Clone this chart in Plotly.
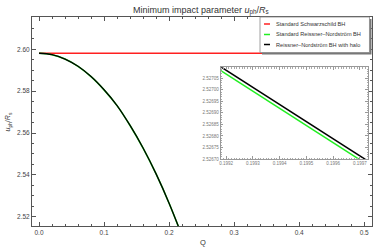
import plotly.graph_objects as go

# ---- data ----
q_main = [0.00, 0.02, 0.04, 0.06, 0.08, 0.10, 0.12, 0.14, 0.16, 0.18, 0.20, 0.22]
b_rn = [2.59808, 2.59741, 2.59530, 2.59183, 2.58693, 2.58062, 2.57309, 2.56359,
        2.55281, 2.54046, 2.52649, 2.51082]
b_halo = [2.59810, 2.59743, 2.59532, 2.59185, 2.58695, 2.58064, 2.57311, 2.56361,
          2.55283, 2.54048, 2.52651, 2.51084]
q_sch = [0.0, 0.5]
b_sch = [2.59808, 2.59808]

q_inset = [0.1991, 0.1992, 0.1993, 0.1994, 0.1995, 0.1996, 0.1997, 0.1998]
b_inset_halo = [2.527160, 2.527086, 2.527012, 2.526937, 2.526863, 2.526788, 2.526714, 2.526639]
b_inset_rn = [2.527143, 2.527069, 2.526995, 2.526920, 2.526846, 2.526771, 2.526697, 2.526622]

legend_names = ["Standard Schwarzschild BH", "Standard Reissner\u2013Nordstr\u00f6m BH",
                "Reissner\u2013Nordstr\u00f6m BH with halo"]
colors = ["#ff2020", "#22ee22", "#000000"]

FONT = "Liberation Sans, Arial, sans-serif"
AX = "#555555"

fig = go.Figure()
fig.add_trace(go.Scatter(x=q_sch, y=b_sch, mode="lines", line=dict(color=colors[0], width=1.5),
                         showlegend=False))
fig.add_trace(go.Scatter(x=q_main, y=b_rn, mode="lines", line=dict(color=colors[1], width=1.6, shape="spline"),
                         showlegend=False))
fig.add_trace(go.Scatter(x=q_main, y=b_halo, mode="lines", line=dict(color=colors[2], width=1.3, shape="spline"),
                         showlegend=False))
# inset
fig.add_trace(go.Scatter(x=q_inset, y=b_inset_rn, mode="lines", line=dict(color=colors[1], width=1.5),
                         xaxis="x2", yaxis="y2", showlegend=False))
fig.add_trace(go.Scatter(x=q_inset, y=b_inset_halo, mode="lines", line=dict(color=colors[2], width=1.5),
                         xaxis="x2", yaxis="y2", showlegend=False))

axis_common = dict(showline=True, linecolor=AX, linewidth=1, mirror="allticks", ticks="inside",
                   tickcolor=AX, showgrid=False, zeroline=False,
                   tickfont=dict(family=FONT, size=6.5, color="#444"))

fig.update_layout(
    width=374, height=251,
    margin=dict(l=32, r=2, t=17, b=25),
    paper_bgcolor="white", plot_bgcolor="white",
    showlegend=False,
    title=dict(text="Minimum impact parameter <i>u</i><sub>ph</sub>/<i>R</i><sub>s</sub>",
               x=0.537, xanchor="center", y=0.975, yanchor="top",
               font=dict(family=FONT, size=9, color="#333")),
    xaxis=dict(range=[-0.0108, 0.512], tickmode="linear", tick0=0, dtick=0.1, tickformat=".1f",
               ticklen=4, minor=dict(ticks="inside", ticklen=2, dtick=0.02, tickcolor=AX),
               **axis_common),
    yaxis=dict(range=[2.5156, 2.6154], tickmode="linear", tick0=2.52, dtick=0.02, tickformat=".2f",
               ticklen=4, minor=dict(ticks="inside", ticklen=2, dtick=0.005, tickcolor=AX),
               **axis_common),
    xaxis2=dict(domain=[0.555, 0.988], anchor="y2", range=[0.19918, 0.19973],
                tickmode="linear", tick0=0.1992, dtick=0.0001, tickformat=".4f",
                showline=True, linecolor="#999", mirror="allticks", ticks="inside", ticklen=2.5,
                tickcolor="#999", showgrid=False, zeroline=False,
                minor=dict(ticks="inside", ticklen=1.2, dtick=0.00001, tickcolor="#aaa"),
                tickfont=dict(family=FONT, size=4.5, color="#777")),
    yaxis2=dict(domain=[0.3206, 0.7593], anchor="x2", range=[2.52670, 2.527098],
                tickmode="linear", tick0=2.5267, dtick=0.00005, tickformat=".5f",
                showline=True, linecolor="#999", mirror="allticks", ticks="inside", ticklen=2.5,
                tickcolor="#999", showgrid=False, zeroline=False,
                minor=dict(ticks="inside", ticklen=1.2, dtick=0.00001, tickcolor="#aaa"),
                tickfont=dict(family=FONT, size=4.5, color="#777")),
)

# legend drawn manually (compact Mathematica-style box with shadow)
shapes = [
    dict(type="rect", xref="paper", yref="paper", x0=0.6765, x1=0.9985, y0=0.8206, y1=0.990,
         fillcolor="#777", line=dict(width=0), layer="above"),
    dict(type="rect", xref="paper", yref="paper", x0=0.6706, x1=0.9926, y0=0.830, y1=1.0,
         fillcolor="white", line=dict(color="#888", width=0.8), layer="above"),
]
rows = [0.9665, 0.9163, 0.8684]
annotations = []
for name, col, yy in zip(legend_names, colors, rows):
    shapes.append(dict(type="line", xref="paper", yref="paper", x0=0.6824, x1=0.700, y0=yy, y1=yy,
                       line=dict(color=col, width=1.5), layer="above"))
    annotations.append(dict(text=name, xref="paper", yref="paper", x=0.7118, y=yy, xanchor="left",
                            yanchor="middle", showarrow=False,
                            font=dict(family=FONT, size=5.6, color="#333")))

annotations.append(dict(text="<i>u</i><sub>ph</sub>/<i>R</i><sub>s</sub>", xref="paper", yref="paper",
                        x=-0.0706, y=0.5, textangle=-90, showarrow=False, xanchor="center",
                        yanchor="middle", font=dict(family=FONT, size=7, color="#333")))
annotations.append(dict(text="Q", xref="paper", yref="paper", x=0.503, y=-0.0813, showarrow=False,
                        xanchor="center", yanchor="middle", font=dict(family=FONT, size=7.5, color="#333")))

fig.update_layout(shapes=shapes, annotations=annotations)
fig.write_html("out.html", config={"displayModeBar": False},
               post_script="document.body.style.margin='0';document.body.style.overflow='hidden';")
